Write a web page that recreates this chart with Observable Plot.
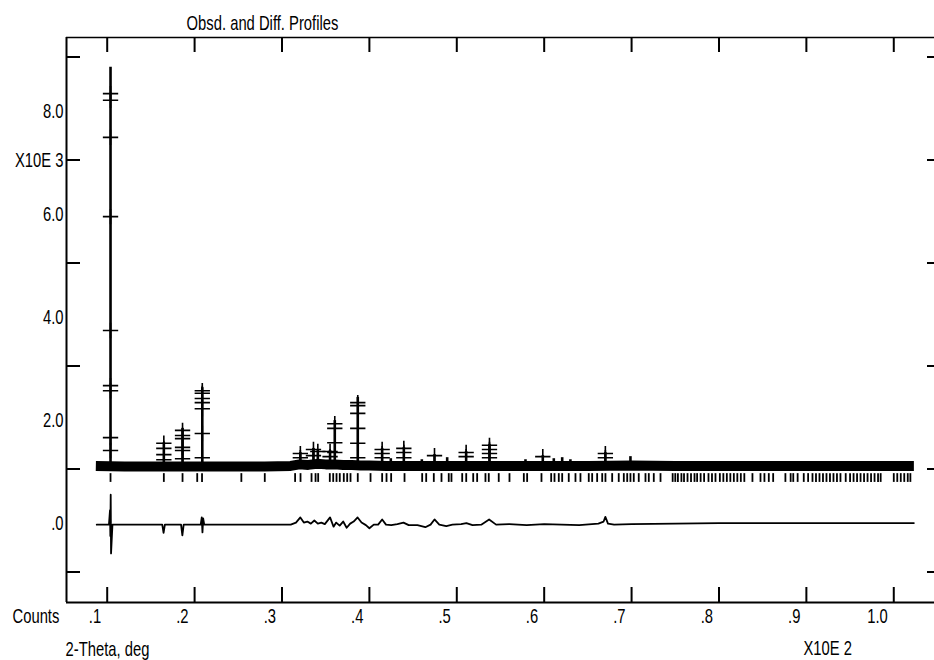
<!DOCTYPE html>
<html><head><meta charset="utf-8">
<script src="https://cdn.jsdelivr.net/npm/d3@7"></script>
<script src="https://cdn.jsdelivr.net/npm/@observablehq/plot@0.6"></script>
<style>
body{margin:0;background:#fff;}
#chart svg{display:block;}
</style></head><body><div id="chart"></div>
<script>
// ---- tick values / labels ----
const xTickValues = [10, 20, 30, 40, 50, 60, 70, 80, 90, 100];
const xTickLabels = [".1", ".2", ".3", ".4", ".5", ".6", ".7", ".8", ".9", "1.0"];
const yTickValues = [-1000, 1000, 3000, 5000, 7000, 9000];
const yLabelValues = [0, 2000, 4000, 6000, 8000];
const yLabelText = [".0", "2.0", "4.0", "6.0", "8.0"];
const titleText = "Obsd. and Diff. Profiles";
const yUnitText = "X10E 3";
const xUnitText = "X10E 2";
const yAxisText = "Counts";
const xAxisText = "2-Theta, deg";

// ---- observed background band (2-theta deg, counts) ----
const bgPos    = [8.7, 12, 16, 20, 24, 28, 31, 32, 33, 34, 35, 36, 37, 38, 39, 40, 42, 45, 50, 55, 60, 65, 70, 75, 80, 85, 90, 95, 100, 102.3];
const bgCounts = [1060, 1050, 1050, 1050, 1050, 1050, 1060, 1090, 1080, 1100, 1090, 1090, 1080, 1080, 1070, 1070, 1060, 1060, 1060, 1060, 1060, 1060, 1070, 1060, 1060, 1060, 1060, 1060, 1060, 1060];

// ---- peak maxima (2-theta deg, counts) ----
const peakPos = [10.38, 16.48, 18.62, 20.88, 32.1, 33.6, 34.1, 35.5, 36.04, 38.67, 41.46, 42.45, 43.94, 46.0, 47.45, 48.9, 51.07, 53.74, 57.86, 59.84, 61.1, 62.06, 63.0, 67.0, 69.87];
const peakTop = [8800, 1510, 1790, 2580, 1320, 1400, 1360, 1360, 1940, 2390, 1400, 1200, 1420, 1180, 1280, 1220, 1340, 1480, 1180, 1260, 1200, 1220, 1180, 1320, 1240];

// ---- observed points visible on the peaks ----
const obsPos = [
  10.38, 10.38, 10.38, 10.38, 10.38, 10.38, 10.38, 10.38, 10.38,
  16.48, 16.48, 16.48, 16.48,
  18.62, 18.62, 18.62, 18.62, 18.62, 18.62,
  20.88, 20.88, 20.88, 20.88, 20.88, 20.88, 20.88,
  32.1, 32.1, 33.6, 33.6, 34.1, 35.5, 35.5,
  36.04, 36.04, 36.04, 36.04,
  38.67, 38.67, 38.67, 38.67, 38.67, 38.67,
  41.46, 41.46, 41.46, 43.94, 43.94, 43.94, 47.45, 51.07, 51.07,
  53.74, 53.74, 53.74, 53.74, 59.84, 67.0, 67.0];
const obsCounts = [
  8290, 8160, 7440, 5900, 3690, 2620, 2520, 1610, 1360,
  1500, 1400, 1280, 1180,
  1750, 1650, 1590, 1420, 1360, 1200,
  2520, 2470, 2370, 2290, 2170, 1690, 1220,
  1300, 1220, 1380, 1260, 1340, 1340, 1240,
  1880, 1790, 1510, 1320,
  2290, 2230, 2080, 1790, 1500, 1220,
  1380, 1300, 1220, 1400, 1320, 1220, 1260, 1320, 1240,
  1460, 1380, 1300, 1220, 1240, 1300, 1220];

// ---- reflection positions (2-theta deg) ----
const reflPos = [10.38, 16.48, 18.62, 20.3, 20.85, 25.35, 28.03, 31.5, 32.12, 33.38, 33.84, 34.14, 35.47, 35.86, 36.24, 36.61, 37.07, 37.46, 37.84, 38.67, 40.13, 41.46, 41.96, 42.49, 44.02, 46.04, 46.5, 47.37, 48.25, 49.08, 49.39, 50.62, 51.08, 51.88, 52.33, 53.28, 53.66, 54.8, 56.03, 57.67, 58.05, 59.69, 60.8, 61.18, 61.67, 62.06, 62.81, 63.58, 64.15, 65.1, 65.49, 66.06, 66.64, 67.01, 67.78, 68.53, 69.11, 69.5, 69.87, 70.25, 70.82, 71.59, 71.97, 72.54, 73.31, 74.7, 75.0, 75.3, 75.7, 76.0, 76.4, 76.8, 77.2, 77.5, 77.9, 78.3, 78.8, 79.2, 79.6, 80.1, 80.5, 80.9, 81.3, 81.7, 82.1, 82.5, 82.9, 83.83, 84.75, 85.2, 85.7, 86.2, 87.6, 88.2, 88.5, 89.0, 89.7, 90.2, 90.7, 91.1, 91.5, 91.9, 92.3, 92.7, 93.1, 93.5, 93.9, 94.5, 95.0, 95.4, 95.8, 96.2, 96.6, 97.0, 97.4, 97.8, 98.2, 98.5, 100.0, 100.4, 100.8, 101.2, 101.6, 101.9];

// ---- difference curve (2-theta deg, counts) ----
const diffPos = [8.8, 10.2, 10.32, 10.36, 10.4, 10.44, 10.6, 16.3, 16.45, 16.6, 18.45, 18.6, 18.75, 20.7, 20.82, 20.9, 20.98, 21.1, 31.0, 31.6, 32.1, 32.5, 32.9, 33.3, 33.7, 34.1, 34.5, 34.9, 35.5, 35.9, 36.2, 36.6, 37.0, 37.4, 37.8, 38.2, 38.65, 39.1, 39.6, 40.0, 40.5, 41.0, 41.46, 41.9, 42.5, 43.2, 43.9, 44.5, 45.5, 46.4, 47.0, 47.45, 48.0, 48.8, 49.5, 50.5, 51.1, 51.8, 52.8, 53.7, 54.5, 56.0, 58.0, 60.0, 62.0, 64.0, 66.2, 66.8, 67.0, 67.3, 68.0, 70.0, 75, 80, 85, 90, 95, 100, 102.3];
const diffCounts = [-80, -80, 200, -300, 500, -640, -80, -80, -240, -80, -80, -290, -80, -80, 60, -230, 40, -80, -80, -40, 60, -40, -20, -60, 0, -60, -40, -70, 60, -120, -40, -100, -20, -140, -60, -20, 60, -40, -90, -150, -80, -80, 20, -80, -90, -70, -40, -90, -90, -130, -80, 20, -80, -110, -80, -70, -50, -90, -80, 20, -80, -70, -90, -70, -80, -90, -60, -20, 70, -60, -80, -70, -60, -50, -50, -50, -50, -50, -50];

// ---- build tables ----
const bg = bgPos.map((p, i) => ({p, c: bgCounts[i]}));
const peaks = peakPos.map((p, i) => ({p, top: peakTop[i]}));
const obs = obsPos.map((p, i) => ({p, c: obsCounts[i]}));
const diff = diffPos.map((p, i) => ({p, c: diffCounts[i]}));

const W = 934, H = 660, mL = 66, mR = 0, mT = 37, mB = 58;
const fw = W - mL - mR, fh = H - mT - mB;
const xDomain = [5.343, 104.66];
const yDomain = [-1592, 9379];
const baseLevel = 1060;

const chart = Plot.plot({
  width: W, height: H,
  marginLeft: mL, marginRight: mR, marginTop: mT, marginBottom: mB,
  x: {domain: xDomain, axis: null},
  y: {domain: yDomain, axis: null},
  style: {fontFamily: "'Liberation Sans', Arial, sans-serif", fontSize: "20px", color: "black", background: "white", overflow: "visible"},
  marks: [
    // frame (left, bottom, top)
    Plot.ruleX([xDomain[0]], {strokeWidth: 2}),
    Plot.ruleY([yDomain[0]], {strokeWidth: 2}),
    Plot.ruleY([yDomain[1]], {strokeWidth: 1.5}),
    // ticks, pointing inward
    Plot.tickX(xTickValues, {x: d => d, insetTop: fh - 15, strokeWidth: 2}),
    Plot.tickX(xTickValues, {x: d => d, insetBottom: fh - 15, strokeWidth: 2}),
    Plot.tickY(yTickValues, {y: d => d, insetRight: fw - 14, strokeWidth: 2}),
    Plot.tickY(yTickValues, {y: d => d, insetLeft: fw - 7, strokeWidth: 2}),
    // tick labels
    Plot.text(xTickValues, {x: d => d, y: yDomain[0], text: (d, i) => xTickLabels[i], textAnchor: "end", lineAnchor: "middle", dx: -6, dy: 14}),
    Plot.text(yLabelValues, {x: xDomain[0], y: d => d, text: (d, i) => yLabelText[i], textAnchor: "end", lineAnchor: "middle", dx: -3, dy: 3}),
    // axis texts
    Plot.text([titleText], {frameAnchor: "top-left", textAnchor: "middle", lineAnchor: "middle", dx: 196, dy: -14}),
    Plot.text([yUnitText], {x: xDomain[0], y: yTickValues[4], textAnchor: "end", lineAnchor: "middle", dx: -3, dy: 1}),
    Plot.text([yAxisText], {frameAnchor: "bottom-left", textAnchor: "start", lineAnchor: "middle", dx: -54, dy: 14}),
    Plot.text([xAxisText], {frameAnchor: "bottom-left", textAnchor: "start", lineAnchor: "middle", dx: -1, dy: 47}),
    Plot.text([xUnitText], {x: xTickValues[8], y: yDomain[0], textAnchor: "start", lineAnchor: "middle", dx: -3, dy: 46}),
    // reflection markers
    Plot.ruleX(reflPos, {x: d => d, y1: 740, y2: 910, strokeWidth: 1.8}),
    // observed background band
    Plot.line(bg, {x: "p", y: "c", strokeWidth: 10, strokeLinejoin: "round", strokeLinecap: "butt"}),
    // peaks (calculated)
    Plot.ruleX(peaks, {x: "p", y1: baseLevel, y2: "top", strokeWidth: 2.6}),
    // observed crosses
    Plot.dot(obs, {x: "p", y: "c", symbol: "plus", r: 5, stroke: "black", strokeWidth: 1.6}),
    // difference curve
    Plot.line(diff, {x: "p", y: "c", strokeWidth: 1.8})
  ]
});
document.getElementById("chart").appendChild(chart);

// narrow the lettering (the plotter font is condensed), keeping each anchor in place
const narrow = 0.74;
chart.querySelectorAll("text").forEach(t => {
  const b = t.getBBox();
  const anchor = getComputedStyle(t).textAnchor;
  const ax = anchor === "end" ? b.x + b.width : anchor === "middle" ? b.x + b.width / 2 : b.x;
  const tr = t.getAttribute("transform") || "";
  t.setAttribute("transform", `${tr} translate(${ax},0) scale(${narrow},1) translate(${-ax},0)`);
});
</script></body></html>
